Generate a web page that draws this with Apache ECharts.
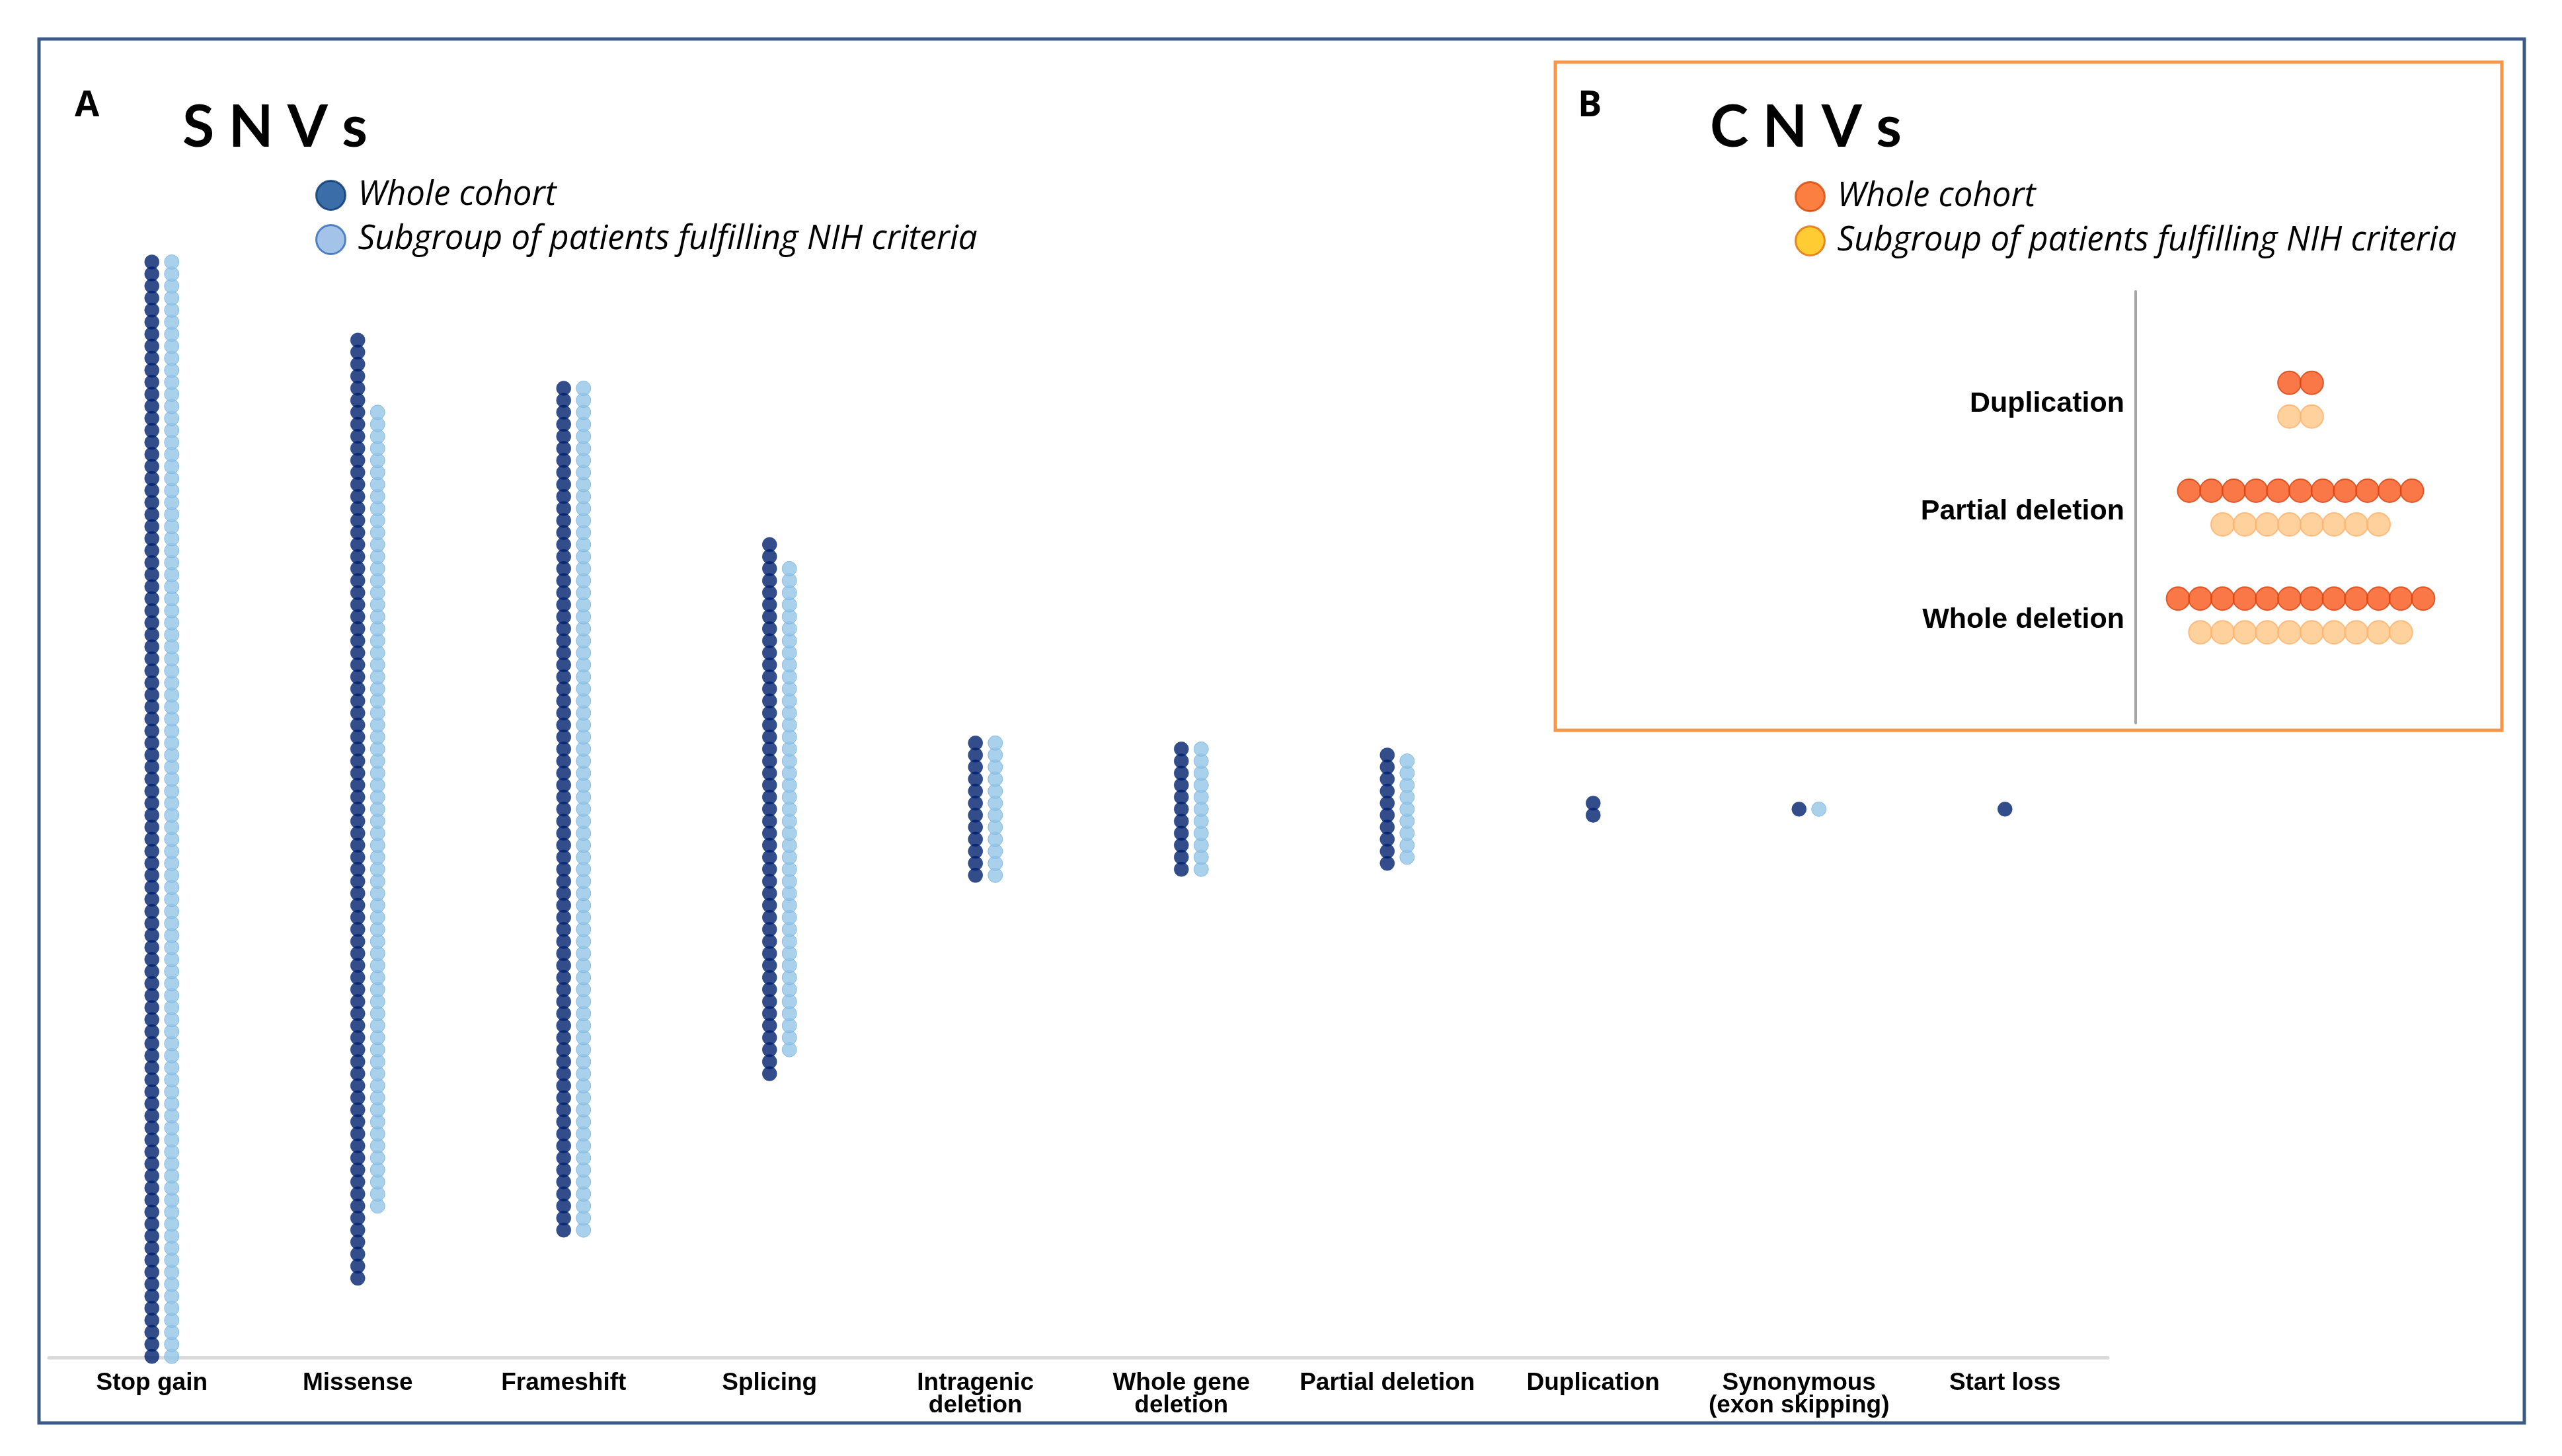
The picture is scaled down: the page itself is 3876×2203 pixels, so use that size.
<!DOCTYPE html>
<html>
<head>
<meta charset="utf-8">
<script src="https://cdn.jsdelivr.net/npm/echarts@6/dist/echarts.min.js"></script>
<style>
html,body{margin:0;padding:0;background:#fff;}
#chart{width:3876px;height:2203px;}
</style>
</head>
<body>
<div id="chart"></div>
<script>
// ---- data ----
const snvCategories = ['Stop gain', 'Missense', 'Frameshift', 'Splicing', 'Intragenic\ndeletion',
  'Whole gene\ndeletion', 'Partial deletion', 'Duplication', 'Synonymous\n(exon skipping)', 'Start loss'];
const snvWholeCohort = [92, 79, 71, 45, 12, 11, 10, 2, 1, 1];
const snvSubgroupNIH = [92, 67, 71, 41, 12, 11, 9, 0, 1, 0];

const cnvCategories = ['Duplication', 'Partial deletion', 'Whole deletion'];
const cnvWholeCohort = [2, 11, 12];
const cnvSubgroupNIH = [2, 8, 10];

const legendNames = ['Whole cohort', 'Subgroup of patients fulfilling NIH criteria'];

// one dot per patient, stacked and centred on zero (vertical for SNVs)
function columnDots(counts) {
  const out = [];
  counts.forEach((n, k) => {
    for (let i = 0; i < n; i++) out.push([k, i - (n - 1) / 2]);
  });
  return out;
}
// horizontal rows for CNVs: [position, category value]
function rowDots(counts) {
  const out = [];
  counts.forEach((n, k) => {
    for (let i = 0; i < n; i++) out.push([i - (n - 1) / 2, k + 1]);
  });
  return out;
}

const chart = echarts.init(document.getElementById('chart'));
const titleFont = 'Lato';
const option = {
  backgroundColor: '#ffffff',
  animation: false,
  title: [
    { text: 'A', left: 113, top: 134, padding: 0, textStyle: { fontSize: 54, fontWeight: 'bold', fontFamily: 'Open Sans', color: '#000' } },
    { text: 'S N V s', left: 276, top: 150, padding: 0, textStyle: { fontSize: 88, fontWeight: 'bold', fontFamily: titleFont, color: '#000' } },
    { text: 'B', left: 2387, top: 134, padding: 0, textStyle: { fontSize: 54, fontWeight: 'bold', fontFamily: 'Open Sans', color: '#000' } },
    { text: 'C N V s', left: 2587, top: 150, padding: 0, textStyle: { fontSize: 88, fontWeight: 'bold', fontFamily: titleFont, color: '#000' } }
  ],
  legend: [
    {
      orient: 'vertical', left: 477, top: 270, padding: 0, itemGap: 16,
      itemWidth: 44, itemHeight: 44, icon: 'circle', selectedMode: false,
      textStyle: { fontStyle: 'italic', fontSize: 51, fontFamily: 'Open Sans', color: '#000', padding: [0, 0, 0, 14] },
      data: [
        { name: legendNames[0], itemStyle: { color: '#0a4a94', borderColor: '#06356e', borderWidth: 3 } },
        { name: legendNames[1], itemStyle: { color: '#8db4e2', borderColor: '#2e69b8', borderWidth: 3 } }
      ]
    },
    {
      orient: 'vertical', left: 2715, top: 272, padding: 0, itemGap: 16,
      itemWidth: 44, itemHeight: 44, icon: 'circle', selectedMode: false,
      textStyle: { fontStyle: 'italic', fontSize: 51, fontFamily: 'Open Sans', color: '#000', padding: [0, 0, 0, 14] },
      data: [
        { name: legendNames[0], itemStyle: { color: '#fa5f12', borderColor: '#d24a08', borderWidth: 3 } },
        { name: legendNames[1], itemStyle: { color: '#ffc000', borderColor: '#e36c09', borderWidth: 3 } }
      ]
    }
  ],
  graphic: [
    { type: 'rect', z: -10, shape: { x: 59, y: 59, width: 3760, height: 2094 }, style: { fill: 'none', stroke: '#3b5a85', lineWidth: 5 } },
    { type: 'rect', z: -10, shape: { x: 2353, y: 94, width: 1432, height: 1011 }, style: { fill: 'none', stroke: '#f79646', lineWidth: 5 } }
  ],
  grid: [
    { left: 74, right: 687, top: 380, bottom: 149 },
    { left: 3231, right: 119, top: 441, bottom: 1109 }
  ],
  xAxis: [
    {
      gridIndex: 0, type: 'category', data: snvCategories, boundaryGap: true,
      axisLine: { onZero: false, lineStyle: { color: '#d9d9d9', width: 5 } },
      axisTick: { show: false }, splitLine: { show: false },
      axisLabel: { interval: 0, margin: 22, fontSize: 37, lineHeight: 34, fontWeight: 'bold', fontFamily: 'Liberation Sans', color: '#000' }
    },
    { gridIndex: 1, type: 'value', min: -7.4, max: 8.2, show: false }
  ],
  yAxis: [
    { gridIndex: 0, type: 'value', min: -45.6, max: 46.4, show: false },
    {
      gridIndex: 1, type: 'value', min: 0, max: 4, interval: 1, inverse: true,
      axisLine: { show: true, onZero: false, lineStyle: { color: '#a6a6a6', width: 4 } },
      axisTick: { show: false }, splitLine: { show: false },
      axisLabel: {
        margin: 17, fontSize: 43, fontWeight: 'bold', fontFamily: 'Liberation Sans', color: '#000',
        verticalAlign: 'top', lineHeight: 14,
        formatter: v => cnvCategories[v - 1] || ''
      }
    }
  ],
  series: [
    {
      name: legendNames[0], type: 'scatter', xAxisIndex: 0, yAxisIndex: 0,
      data: columnDots(snvWholeCohort), symbol: 'circle', symbolSize: 22, symbolOffset: [0, 0],
      itemStyle: { color: '#00216d', borderColor: '#0a3280', borderWidth: 0.5 }
    },
    {
      name: legendNames[1], type: 'scatter', xAxisIndex: 0, yAxisIndex: 0,
      data: columnDots(snvSubgroupNIH), symbol: 'circle', symbolSize: 22, symbolOffset: [30, 0],
      itemStyle: { color: '#93c5e6', borderColor: '#7ab3e3', borderWidth: 1 }
    },
    {
      name: legendNames[0], type: 'scatter', xAxisIndex: 1, yAxisIndex: 1,
      data: rowDots(cnvWholeCohort), symbol: 'circle', symbolSize: 35, symbolOffset: [0, -25],
      itemStyle: { color: '#f9561a', borderColor: '#d8400c', borderWidth: 2 }
    },
    {
      name: legendNames[1], type: 'scatter', xAxisIndex: 1, yAxisIndex: 1,
      data: rowDots(cnvSubgroupNIH), symbol: 'circle', symbolSize: 35, symbolOffset: [0, 26],
      itemStyle: { color: '#ffc685', borderColor: '#ffb06a', borderWidth: 2 }
    }
  ]
};
chart.setOption(option);
</script>
</body>
</html>
